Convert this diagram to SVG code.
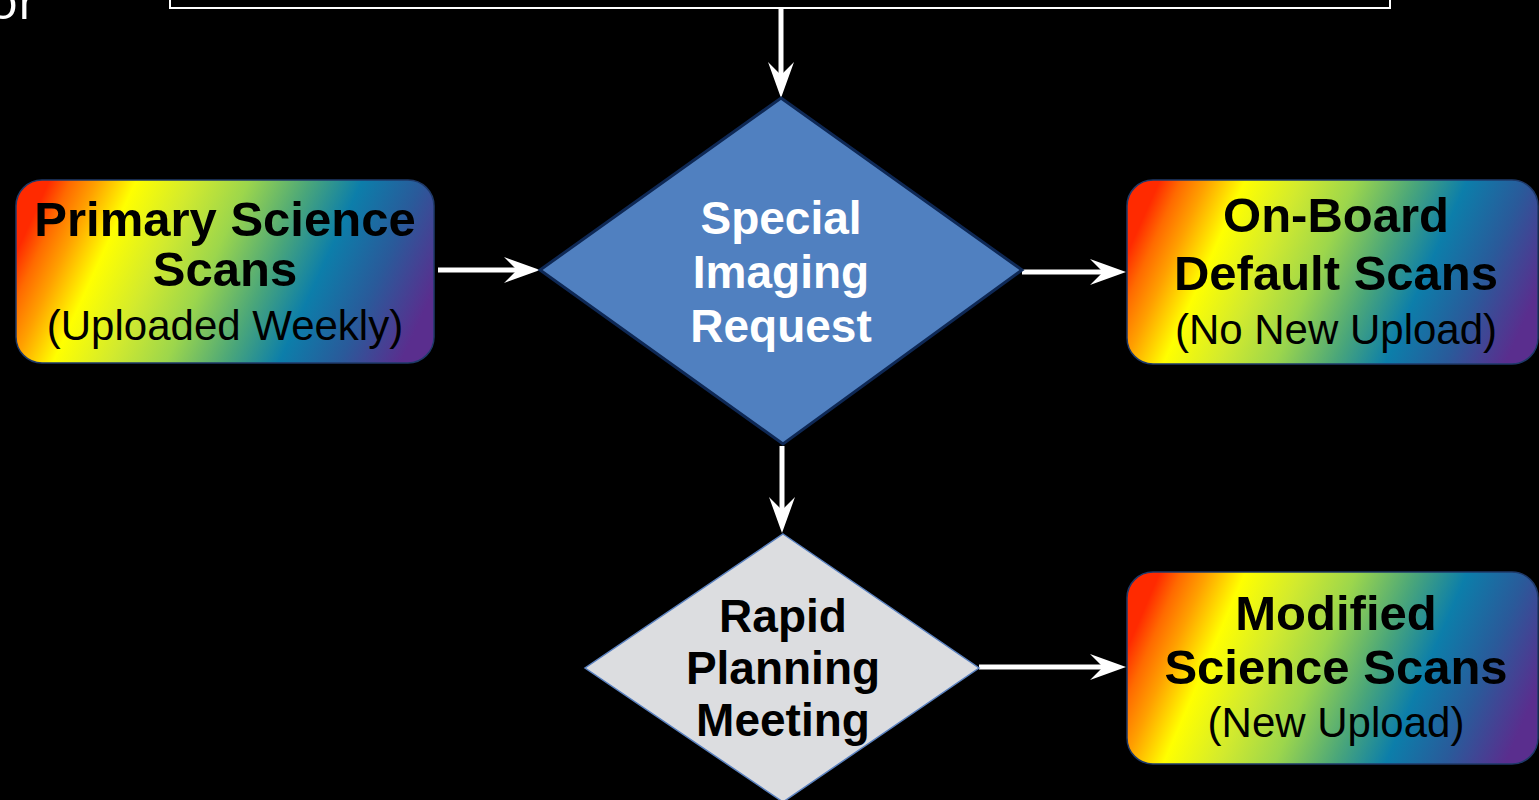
<svg xmlns="http://www.w3.org/2000/svg" width="1539" height="800" viewBox="0 0 1539 800">
<style>
.title{font-family:"Liberation Sans",Arial,sans-serif;font-weight:bold;font-size:49px;fill:#000;text-anchor:middle}
.sub{font-family:"Liberation Sans",Arial,sans-serif;font-size:42px;fill:#000;text-anchor:middle}
.dia{font-family:"Liberation Sans",Arial,sans-serif;font-weight:bold;font-size:46px;text-anchor:middle}
.box{fill:url(#rainbow);stroke:#1f3a6a;stroke-width:1.5}
.conn{stroke:#fff;stroke-width:5;fill:none;marker-end:url(#arr)}
</style>
<defs>
<linearGradient id="rainbow" x1="0" y1="0.4" x2="1" y2="0.6">
<stop offset="0" stop-color="#ff2a00"/>
<stop offset="0.05" stop-color="#ff6a00"/>
<stop offset="0.11" stop-color="#ffa000"/>
<stop offset="0.2" stop-color="#ffff00"/>
<stop offset="0.33" stop-color="#d2ea2e"/>
<stop offset="0.46" stop-color="#9cd64c"/>
<stop offset="0.6" stop-color="#4aa67a"/>
<stop offset="0.72" stop-color="#0c7eaa"/>
<stop offset="0.86" stop-color="#2a5a9a"/>
<stop offset="1" stop-color="#5a2e8e"/>
</linearGradient>
<marker id="arr" viewBox="0 0 36 26" refX="16" refY="13" markerWidth="36" markerHeight="26" markerUnits="userSpaceOnUse" orient="auto">
<path d="M0,0 L36,13 L0,26 L13,13 z" fill="#fff"/>
</marker>
</defs>
<rect width="1539" height="800" fill="#000"/>
<text x="-12" y="19" font-family="'Open Sans',sans-serif" font-size="50" fill="#fff">or</text>
<rect id="top-box" x="170" y="-10" width="1220" height="18" fill="none" stroke="#fff" stroke-width="2"/>
<g id="connectors">
<line class="conn" x1="781" y1="9" x2="781" y2="78"/>
<line class="conn" x1="438" y1="270" x2="520" y2="270"/>
<line class="conn" x1="1022" y1="272" x2="1106" y2="272"/>
<line class="conn" x1="782" y1="446" x2="782" y2="513"/>
<line class="conn" x1="979" y1="667" x2="1106" y2="667"/>
</g>
<g id="primary">
<rect class="box" x="16" y="180" width="418" height="183" rx="26"/>
<text class="title" x="225" y="236">Primary Science</text>
<text class="title" x="225" y="286">Scans</text>
<text class="sub" x="225" y="340">(Uploaded Weekly)</text>
</g>
<g id="special">
<polygon points="781,98 1022,270 783,444 540,270" fill="#5080c0" stroke="#0e2855" stroke-width="3"/>
<text class="dia" x="781" y="234" fill="#fff">Special</text>
<text class="dia" x="781" y="288" fill="#fff">Imaging</text>
<text class="dia" x="781" y="342" fill="#fff">Request</text>
</g>
<g id="onboard">
<rect class="box" x="1127" y="180" width="411" height="184" rx="26"/>
<text class="title" x="1336" y="232">On-Board</text>
<text class="title" x="1336" y="290">Default Scans</text>
<text class="sub" x="1336" y="344">(No New Upload)</text>
</g>
<g id="rapid">
<polygon points="783,534 979,668 783,802 585,668" fill="#dcdde0" stroke="#5b82c0" stroke-width="1.5"/>
<text class="dia" x="783" y="632" fill="#000">Rapid</text>
<text class="dia" x="783" y="684" fill="#000">Planning</text>
<text class="dia" x="783" y="736" fill="#000">Meeting</text>
</g>
<g id="modified">
<rect class="box" x="1127" y="572" width="411" height="192" rx="26"/>
<text class="title" x="1336" y="630">Modified</text>
<text class="title" x="1336" y="684">Science Scans</text>
<text class="sub" x="1336" y="737">(New Upload)</text>
</g>
</svg>
